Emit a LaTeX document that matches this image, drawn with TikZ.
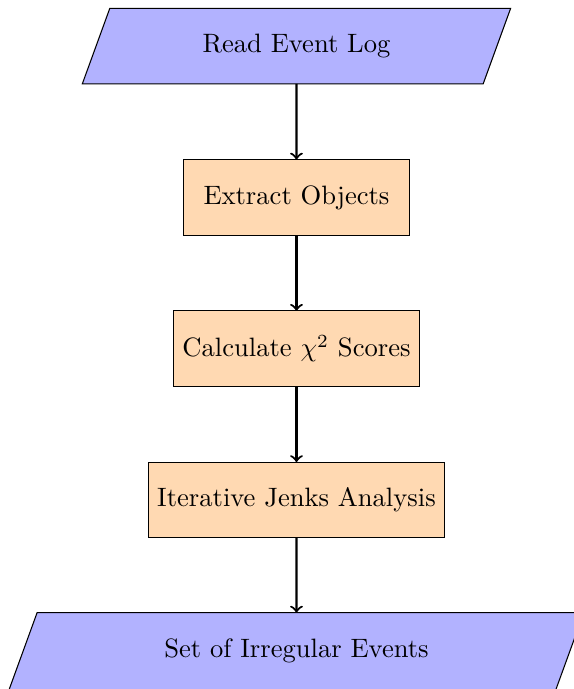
\documentclass[tikz,border=0pt]{standalone}
\usepackage{amsmath}
\usepackage{tikz}
\usetikzlibrary{shapes.geometric,arrows,positioning}
\tikzset{
	io/.style={trapezium, trapezium left angle=70, trapezium right angle=110,
		minimum width=3cm, minimum height=1cm, outer sep=0pt,
		text centered, draw=black, fill=blue!30},
	process/.style={rectangle, minimum width=3cm, minimum height=1cm, outer sep=0pt,
		text centered, draw=black, fill=orange!30},
	arrow/.style={thick,->}
}

\begin{document}
\begin{tikzpicture}[node distance=1cm]
      \useasboundingbox (-3.92,-8.5) rectangle (3.66,0.61);
      \node[io] (readlog) {Read Event Log};
      \node[process, below=of readlog] (extract) {Extract Objects};
      \node[process, below=of extract] (chisq) {Calculate $\chi^2$ Scores};
      \node[process, below=of chisq] (jenks) {Iterative Jenks Analysis};
      \node[io, minimum height=1.02cm, below=0.99cm of jenks] (irregular) {Set of Irregular Events};
      \draw[arrow] (readlog) -- (extract);
      \draw[arrow] (extract) -- (chisq);
      \draw[arrow] (chisq) -- (jenks);
      \draw[arrow] (jenks) -- (irregular);
   \end{tikzpicture}
\end{document}
